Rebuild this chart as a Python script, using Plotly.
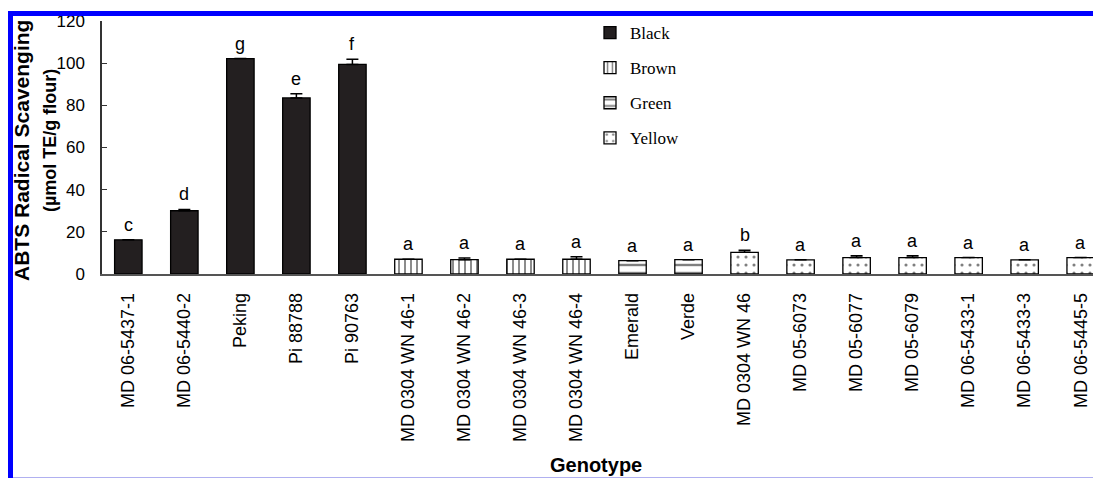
import plotly.graph_objects as go

categories = ["MD 06-5437-1", "MD 06-5440-2", "Peking", "Pi 88788", "Pi 90763",
              "MD 0304 WN 46-1", "MD 0304 WN 46-2", "MD 0304 WN 46-3", "MD 0304 WN 46-4",
              "Emerald", "Verde", "MD 0304 WN 46",
              "MD 05-6073", "MD 05-6077", "MD 05-6079",
              "MD 06-5433-1", "MD 06-5433-3", "MD 06-5445-5"]
values = [16.2, 30.0, 102.2, 83.5, 99.4,
          7.0, 6.8, 7.0, 7.0,
          6.3, 6.8, 10.3,
          6.7, 7.8, 7.8,
          7.8, 6.7, 7.8]
errors = [0.0, 0.6, 0.0, 2.0, 2.5,
          0.0, 0.8, 0.0, 1.2,
          0.0, 0.0, 1.0,
          0.0, 0.8, 0.8,
          0.0, 0.0, 0.0]
letters = ["c", "d", "g", "e", "f",
           "a", "a", "a", "a",
           "a", "a", "b",
           "a", "a", "a",
           "a", "a", "a"]
seed_colour = ["Black"] * 5 + ["Brown"] * 4 + ["Green"] * 2 + ["Yellow"] * 7
colour_names = ["Black", "Brown", "Green", "Yellow"]
y_ticks = [0, 20, 40, 60, 80, 100, 120]

W, H = 1093, 478
ML, MR, MT, MB = 102, 0, 21, 204
PW, PH = W - ML - MR, H - MT - MB


def px_x(x):
    return (x - ML) / PW


def px_y(y):
    return (H - MB - y) / PH


styles = {
    "Black": dict(color="#231f20", pattern=None),
    "Brown": dict(color="white", pattern=dict(shape="|", size=6, solidity=0.3, fgcolor="black", bgcolor="white")),
    "Green": dict(color="white", pattern=dict(shape="-", size=8, solidity=0.3, fgcolor="black", bgcolor="white")),
    "Yellow": dict(color="white", pattern=dict(shape=".", size=8, solidity=0.12, fgcolor="black", bgcolor="white")),
}

fig = go.Figure()
for name in colour_names:
    idx = [i for i, c in enumerate(seed_colour) if c == name]
    st = styles[name]
    marker = dict(color=st["color"], line=dict(color="black", width=1.3))
    if st["pattern"] is not None:
        marker["pattern"] = st["pattern"]
    fig.add_trace(go.Bar(
        x=[categories[i] for i in idx],
        y=[values[i] for i in idx],
        error_y=dict(type="data", symmetric=False,
                     array=[errors[i] for i in idx],
                     arrayminus=[0] * len(idx),
                     color="black", thickness=1.5, width=6),
        name=name, legendgroup=name,
        marker=marker, width=0.49,
    ))

for cat, v, e, let in zip(categories, values, errors, letters):
    fig.add_annotation(x=cat, y=v + e, text=let, showarrow=False,
                       yanchor="bottom", yshift=3,
                       font=dict(family="Arial, Liberation Sans", size=18, color="black"))

# y-axis title lines
fig.add_annotation(xref="paper", yref="paper", x=px_x(22), y=px_y(151),
                   text="<b>ABTS Radical Scavenging</b>", textangle=-90, showarrow=False,
                   xanchor="center", yanchor="middle",
                   font=dict(family="Arial, Liberation Sans", size=21, color="black"))
fig.add_annotation(xref="paper", yref="paper", x=px_x(50), y=px_y(141),
                   text="<b>(µmol TE/g flour)</b>", textangle=-90, showarrow=False,
                   xanchor="center", yanchor="middle",
                   font=dict(family="Arial, Liberation Sans", size=18, color="black"))
# x-axis title
fig.add_annotation(xref="paper", yref="paper", x=px_x(596), y=px_y(478),
                   text="<b>Genotype</b>", showarrow=False,
                   xanchor="center", yanchor="bottom",
                   font=dict(family="Arial, Liberation Sans", size=20, color="black"))

# frame artefacts (blue border of the scanned figure)
fig.add_shape(type="rect", xref="paper", yref="paper", layer="above",
              x0=px_x(8), x1=px_x(W + 2), y0=px_y(16), y1=px_y(11),
              fillcolor="#0000ff", line=dict(width=0))
fig.add_shape(type="rect", xref="paper", yref="paper", layer="above",
              x0=px_x(8), x1=px_x(13), y0=px_y(H + 2), y1=px_y(11),
              fillcolor="#0000ff", line=dict(width=0))
fig.add_shape(type="line", xref="paper", yref="paper", layer="above",
              x0=px_x(13), x1=px_x(W + 2), y0=px_y(477.5), y1=px_y(477.5),
              line=dict(color="#b0b0f0", width=1))

fig.update_layout(
    width=W, height=H,
    margin=dict(l=ML, r=MR, t=MT, b=MB),
    paper_bgcolor="white", plot_bgcolor="white",
    barmode="overlay",
    showlegend=True,
    legend=dict(x=px_x(590), y=px_y(15), xanchor="left", yanchor="top",
                font=dict(family="Liberation Serif, Times New Roman", size=17, color="black"),
                bgcolor="rgba(0,0,0,0)", tracegroupgap=10, traceorder="grouped"),
    xaxis=dict(type="category", categoryorder="array", categoryarray=categories,
               range=[-0.47, 17.22], tickangle=-90, ticks="", showgrid=False,
               showline=True, linecolor="#555555", linewidth=1.5,
               ticklabelstandoff=10,
               tickfont=dict(family="Arial, Liberation Sans", size=18, color="black")),
    yaxis=dict(range=[0, 120], tickvals=y_ticks, ticks="inside", ticklen=5,
               tickcolor="#333333", tickwidth=1.3,
               showgrid=False, zeroline=False,
               showline=True, linecolor="#333333", linewidth=1.5,
               ticklabelstandoff=12,
               tickfont=dict(family="Arial, Liberation Sans", size=17, color="black")),
    font=dict(family="Arial, Liberation Sans", color="black"),
)

fig.write_html("out.html")
